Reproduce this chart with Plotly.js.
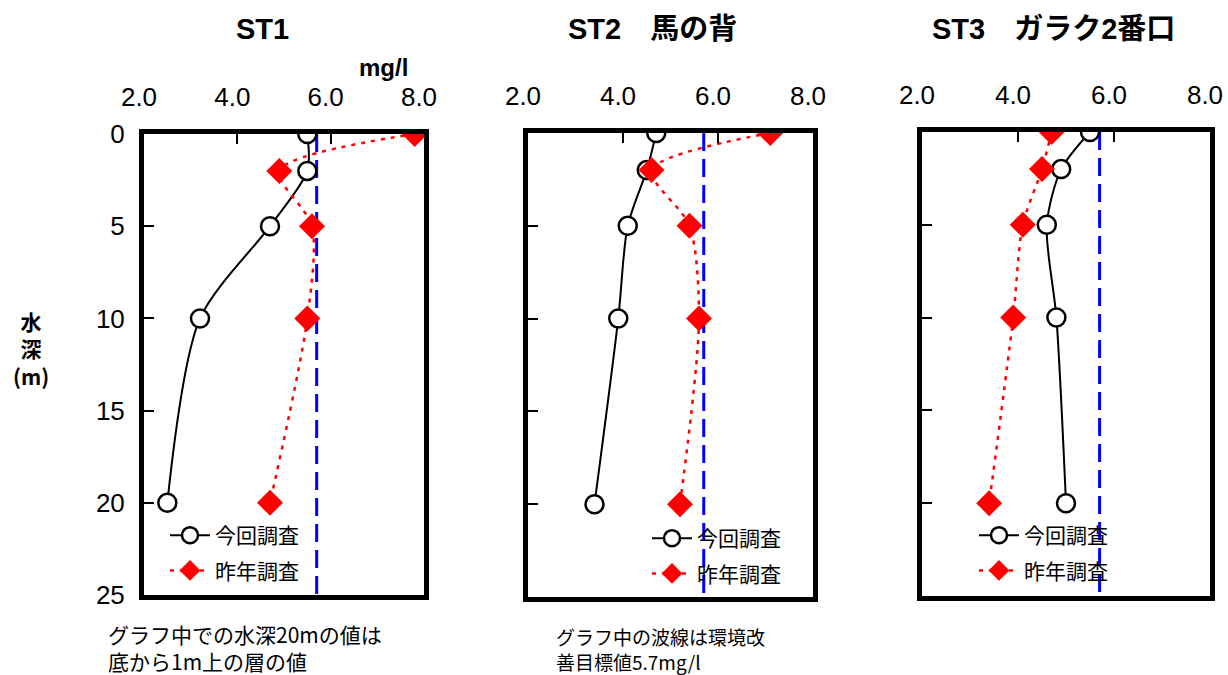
<!DOCTYPE html>
<html><head><meta charset="utf-8">
<script src="https://cdn.plot.ly/plotly-3.0.1.min.js"></script>
<style>html,body{margin:0;padding:0;background:#fff}#chart{width:1228px;height:675px}</style>
</head><body><div id="chart"></div>
<script>
// ---- data ----
const depths = [0, 2, 5, 10, 20];
const st1Now  = [5.5, 5.5, 4.7, 3.2, 2.5];
const st1Last = [7.8, 4.9, 5.6, 5.5, 4.7];
const st2Now  = [4.7, 4.5, 4.1, 3.9, 3.4];
const st2Last = [7.1, 4.6, 5.4, 5.6, 5.2];
const st3Now  = [5.5, 4.9, 4.6, 4.8, 5.0];
const st3Last = [4.7, 4.5, 4.1, 3.9, 3.4];
const targetValue = [5.7, 5.7];
const targetDepth = [0, 25];
const xTickVals = [2, 4, 6, 8];
const xTickText = ['2.0', '4.0', '6.0', '8.0'];
const yTickVals = [0, 5, 10, 15, 20, 25];
const seriesNames = ['今回調査', '昨年調査'];
const panelTitles = ['ST1', 'ST2　馬の背', 'ST3　ガラク2番口'];

const W = 1228, H = 675;
const FONT = 'Liberation Sans, Arial, Noto Sans CJK JP, sans-serif';
const JFONT = 'Noto Sans CJK JP, sans-serif';

const panels = [
  {now: st1Now, last: st1Last, x0: 144, x1: 424, top: 134, bot: 595, leg: 'legend', lx: 165, ly: 515},
  {now: st2Now, last: st2Last, x0: 528, x1: 813, top: 133, bot: 597, leg: 'legend2', lx: 647, ly: 518},
  {now: st3Now, last: st3Last, x0: 922, x1: 1210, top: 132, bot: 596, leg: 'legend3', lx: 974, ly: 515}
];

const traces = [];
const layout = {
  width: W, height: H, margin: {l: 0, r: 0, t: 0, b: 0},
  paper_bgcolor: '#fff', plot_bgcolor: '#fff',
  font: {family: FONT, color: '#000'},
  annotations: [], showlegend: true
};

panels.forEach((p, i) => {
  const n = i === 0 ? '' : String(i + 1);
  const xa = 'x' + n, ya = 'y' + n;
  traces.push({
    x: targetValue, y: targetDepth, xaxis: xa, yaxis: ya, mode: 'lines',
    line: {color: '#0000ff', width: 3, dash: '18px,8px'}, showlegend: false, hoverinfo: 'skip'
  });
  traces.push({
    x: p.now, y: depths, xaxis: xa, yaxis: ya, mode: 'lines+markers', name: seriesNames[0],
    legend: p.leg, legendgroup: 'a' + i,
    line: {color: '#000', width: 2, shape: 'spline', smoothing: 0.8},
    marker: {symbol: 'circle', size: 18, color: '#fff', line: {color: '#000', width: 2.5}}
  });
  traces.push({
    x: p.last, y: depths, xaxis: xa, yaxis: ya, mode: 'lines+markers', name: seriesNames[1],
    legend: p.leg, legendgroup: 'b' + i,
    line: {color: '#ff0000', width: 2.5, dash: '4px,6px', shape: 'spline', smoothing: 0.8},
    marker: {symbol: 'diamond', size: 20, color: '#ff0000', line: {width: 0}}
  });
  layout['xaxis' + n] = {
    domain: [p.x0 / W, p.x1 / W], anchor: ya, side: 'top', range: [2, 8],
    tickvals: xTickVals, ticktext: xTickText, ticks: 'inside', ticklen: 10, tickwidth: 2,
    tickcolor: '#000', tickfont: {size: 26, family: FONT}, ticklabelstandoff: 13, ticklabelshift: -5,
    showline: true, linewidth: 5, linecolor: '#000', mirror: true,
    showgrid: false, zeroline: false, fixedrange: true
  };
  layout['yaxis' + n] = {
    domain: [(H - p.bot) / H, (H - p.top) / H], anchor: xa, range: [25, 0],
    tickvals: yTickVals, ticks: 'inside', ticklen: 10, tickwidth: 2, tickcolor: '#000',
    showticklabels: i === 0, tickfont: {size: 26, family: FONT}, ticklabelstandoff: 9,
    showline: true, linewidth: 5, linecolor: '#000', mirror: true,
    showgrid: false, zeroline: false, fixedrange: true
  };
  layout[p.leg] = {
    x: p.lx / W, y: (H - p.ly) / H, xanchor: 'left', yanchor: 'top',
    bgcolor: 'rgba(0,0,0,0)', font: {size: 21, family: JFONT},
    traceorder: 'grouped', tracegroupgap: 5, itemwidth: 40
  };
});

const titleX = [262, 652, 1053];
panelTitles.forEach((t, i) => {
  layout.annotations.push({
    text: '<b>' + t + '</b>', xref: 'paper', yref: 'paper', x: titleX[i] / W, y: (H - 29) / H,
    xanchor: 'center', yanchor: 'middle', showarrow: false,
    font: {size: 29, family: 'Liberation Sans, Noto Sans CJK JP, sans-serif'}
  });
});
layout.annotations.push({
  text: '<b>mg/l</b>', xref: 'paper', yref: 'paper', x: 383 / W, y: (H - 67) / H,
  xanchor: 'center', yanchor: 'middle', showarrow: false, font: {size: 24, family: FONT}
});
layout.annotations.push({
  text: '<b>水<br>深<br>(m)</b>', xref: 'paper', yref: 'paper', x: 31 / W, y: (H - 349) / H,
  xanchor: 'center', yanchor: 'middle', showarrow: false, align: 'center',
  font: {size: 21, family: JFONT}
});
layout.annotations.push({
  text: 'グラフ中での水深20mの値は<br>底から1m上の層の値', xref: 'paper', yref: 'paper',
  x: 106 / W, y: (H - 647) / H, xanchor: 'left', yanchor: 'middle', showarrow: false, align: 'left',
  font: {size: 21, family: JFONT}
});
layout.annotations.push({
  text: 'グラフ中の波線は環境改<br>善目標値5.7mg/l', xref: 'paper', yref: 'paper',
  x: 554 / W, y: (H - 649) / H, xanchor: 'left', yanchor: 'middle', showarrow: false, align: 'left',
  font: {size: 19, family: JFONT}
});

Plotly.newPlot('chart', traces, layout, {displayModeBar: false, staticPlot: true});
</script></body></html>
